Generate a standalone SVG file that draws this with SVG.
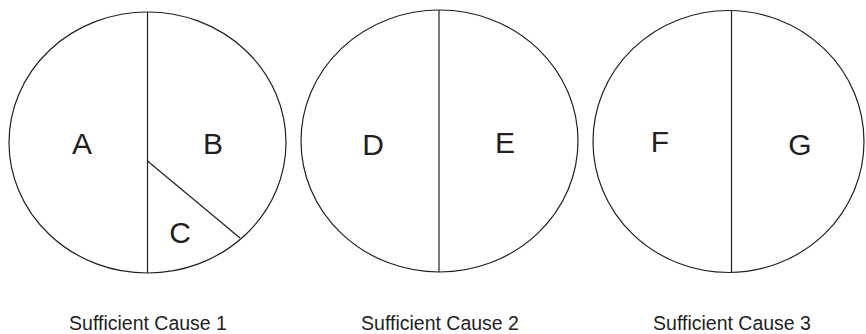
<svg xmlns="http://www.w3.org/2000/svg" width="866" height="334" viewBox="0 0 866 334">
<style>
.pie{fill:#fff;stroke:#231f20;stroke-width:1.2}
.div{stroke:#231f20;stroke-width:1.2;fill:none}
.lbl{font-family:"Liberation Sans",Arial,sans-serif;font-size:30px;fill:#231f20;text-anchor:middle}
.cap{font-family:"Liberation Sans",Arial,sans-serif;font-size:19.5px;fill:#231f20;text-anchor:middle}
</style>
<rect width="866" height="334" fill="#fff"/>
<g id="cause1">
<ellipse class="pie" cx="147.5" cy="142.5" rx="138.5" ry="130.5"/>
<line class="div" x1="147.5" y1="12" x2="147.5" y2="273"/>
<line class="div" x1="147.5" y1="161" x2="240" y2="238"/>
<text class="lbl" x="82" y="154">A</text>
<text class="lbl" x="213" y="154">B</text>
<text class="lbl" x="180" y="243">C</text>
<text class="cap" x="148" y="330">Sufficient Cause 1</text>
</g>
<g id="cause2">
<ellipse class="pie" cx="439.5" cy="141" rx="138.5" ry="131"/>
<line class="div" x1="439" y1="10" x2="439" y2="272"/>
<text class="lbl" x="373" y="155">D</text>
<text class="lbl" x="505" y="153">E</text>
<text class="cap" x="440" y="330">Sufficient Cause 2</text>
</g>
<g id="cause3">
<ellipse class="pie" cx="728.5" cy="141.5" rx="135.5" ry="131"/>
<line class="div" x1="731.5" y1="11" x2="731.5" y2="273"/>
<text class="lbl" x="660" y="152">F</text>
<text class="lbl" x="800" y="155">G</text>
<text class="cap" x="732" y="330">Sufficient Cause 3</text>
</g>
<g id="connectors"/>
</svg>
